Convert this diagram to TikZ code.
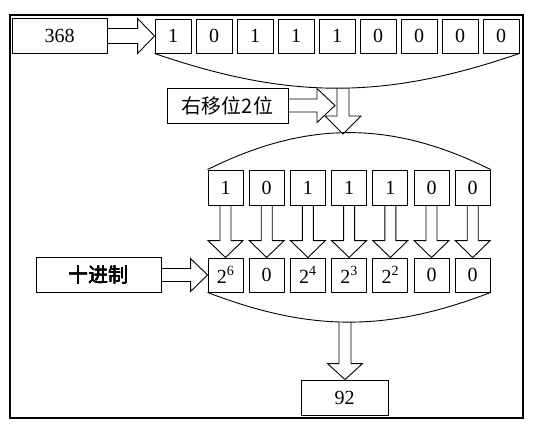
\documentclass[tikz,border=0pt]{standalone}
\usepackage{fontspec}
\setmainfont{Liberation Serif}
\newfontfamily\cjk{Noto Sans CJK SC}
\usepackage{tikz}
\usetikzlibrary{positioning,calc}

\tikzset{
  cell/.style={draw, line width=0.9pt, minimum width=36pt, minimum height=34pt, inner sep=0pt},
  tag/.style={draw, line width=0.9pt, minimum height=35pt, inner sep=0pt},
  blk/.style={draw, line width=0.9pt, line join=miter},
}

% hollow block arrows: from, to, shaft half, head half, head length
\newcommand{\arrowR}[5]{%
  \draw[blk] let \p1=(#1), \p2=(#2) in
    (\x1,\y1+#3pt) -- (\x2-#5pt,\y1+#3pt) -- (\x2-#5pt,\y1+#4pt)
    -- (\x2,\y1) -- (\x2-#5pt,\y1-#4pt) -- (\x2-#5pt,\y1-#3pt) -- (\x1,\y1-#3pt);}
\newcommand{\arrowD}[5]{%
  \draw[blk] let \p1=(#1), \p2=(#2) in
    (\x1-#3pt,\y1) -- (\x1-#3pt,\y2+#5pt) -- (\x1-#4pt,\y2+#5pt)
    -- (\x1,\y2) -- (\x1+#4pt,\y2+#5pt) -- (\x1+#3pt,\y2+#5pt) -- (\x1+#3pt,\y1);}

\begin{document}
\begin{tikzpicture}[x=1pt, y=-1pt, font=\fontsize{20}{24}\selectfont]
  \useasboundingbox (0,0) rectangle (540,432);
  \draw[line width=1.6pt] (10,15) rectangle (523,418);

  % 368 in binary
  \foreach \v [count=\i] in {1,0,1,1,1,0,0,0,0}
    \node[cell] (a\i) at ({173+41*(\i-1)},36) {\v};
  \node[tag, minimum width=95pt, left=47pt of a1] (num) {368};
  \arrowR{num.east}{a1.west}{7.5}{17.5}{17}
  \draw[line width=0.9pt] (a1.south west) to[bend right=19] (a9.south east);

  % shift right by 2
  \node[tag, minimum width=121pt] (shift) at (227.5,105.5) {\cjk 右移位2位};
  \coordinate (shin) at (335,106);
  \arrowR{shift.east}{shin}{6.5}{17}{18}
  \coordinate (sag1) at (343,88);
  \coordinate (top2) at (343,134);
  \arrowD{sag1}{top2}{6}{18}{18}

  % shifted bits and their weights
  \foreach \v [count=\i] in {1,0,1,1,1,0,0}
    \node[cell, minimum width=35pt, minimum height=35pt] (b\i) at ({225.5+41.2*(\i-1)},187.5) {\v};
  \foreach \v [count=\i] in {2\textsuperscript{6},0,2\textsuperscript{4},2\textsuperscript{3},2\textsuperscript{2},0,0}
    \node[cell, minimum width=35pt] (c\i) at ({225.5+41.2*(\i-1)},275) {\v};
  \draw[line width=0.9pt] (b1.north west) to[bend left=26.5] (b7.north east);
  \foreach \i in {1,...,7}
    \arrowD{b\i.south}{c\i.north}{5.5}{17.5}{17}
  \node[tag, minimum width=125pt, left=46pt of c1] (base) {\cjk 十进制};
  \arrowR{base.east}{c1.west}{6.5}{16.5}{17}
  \draw[line width=0.9pt] (c1.south west) to[bend right=21] (c7.south east);

  % result
  \node[tag, minimum width=87pt] (res) at (344.5,397.5) {92};
  \coordinate (sag3) at (345,322);
  \arrowD{sag3}{res.north}{6}{17.5}{16}
\end{tikzpicture}
\end{document}
